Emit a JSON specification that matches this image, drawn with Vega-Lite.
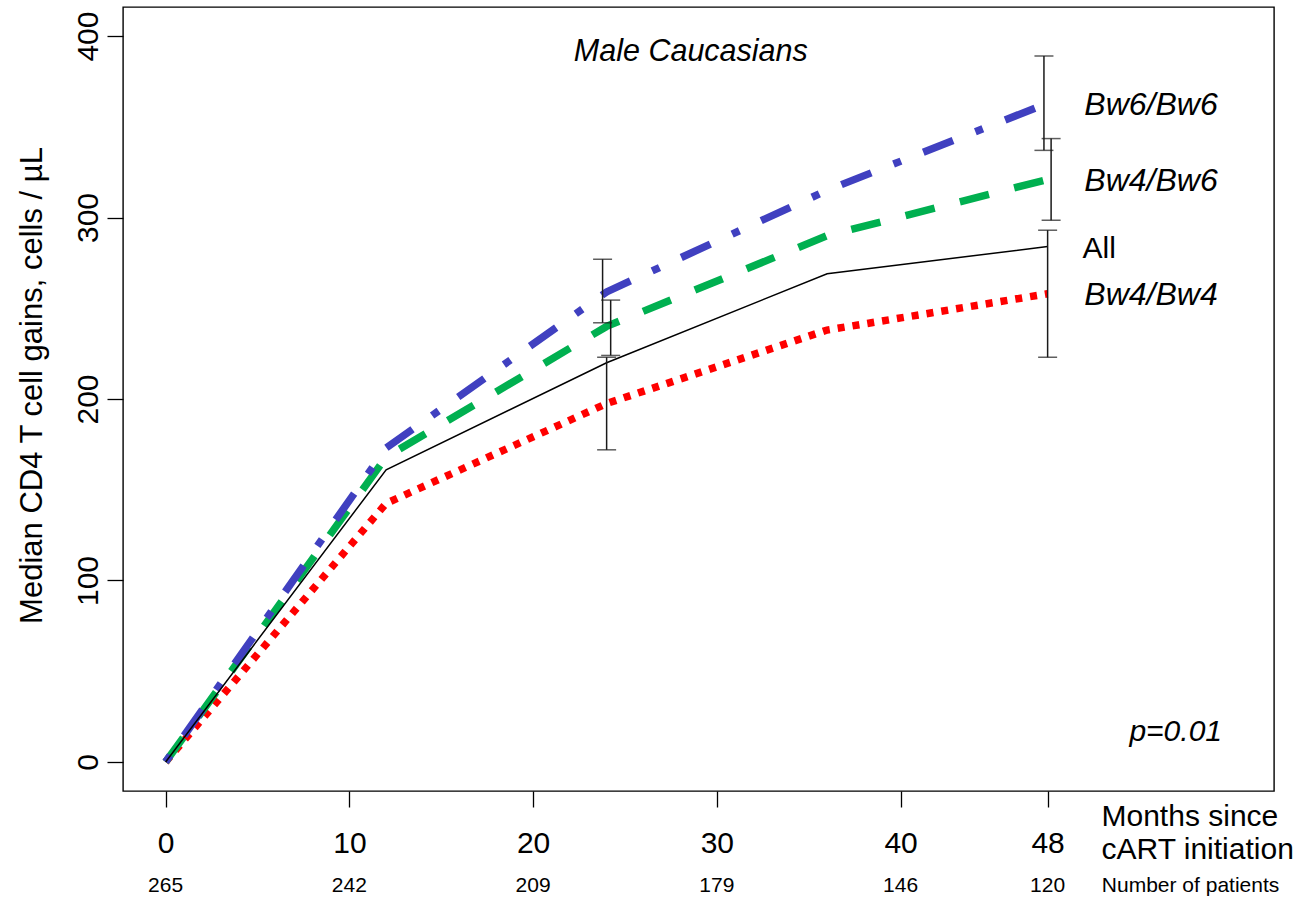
{
  "$schema": "https://vega.github.io/schema/vega-lite/v6.json",
  "width": 1151,
  "height": 784,
  "autosize": {"type": "none"},
  "padding": {"left": 123, "top": 7, "right": 21, "bottom": 115},
  "background": "white",
  "config": {
    "view": {"stroke": "black", "strokeWidth": 1.4},
    "font": "Liberation Sans",
    "axis": {"labelFont": "Liberation Sans", "titleFont": "Liberation Sans", "labelColor": "black", "titleColor": "black", "tickColor": "black", "tickWidth": 1.3, "titleFontWeight": "normal"}
  },
  "datasets": {
    "gains": [
      {"series": "All", "month": 0, "gain": 0},
      {"series": "All", "month": 12, "gain": 161},
      {"series": "All", "month": 24, "gain": 220},
      {"series": "All", "month": 36, "gain": 269},
      {"series": "All", "month": 48, "gain": 284},
      {"series": "Bw4/Bw4", "month": 0, "gain": 0},
      {"series": "Bw4/Bw4", "month": 12, "gain": 142.5},
      {"series": "Bw4/Bw4", "month": 24, "gain": 197.5},
      {"series": "Bw4/Bw4", "month": 36, "gain": 238},
      {"series": "Bw4/Bw4", "month": 48, "gain": 258},
      {"series": "Bw4/Bw6", "month": 0, "gain": 0},
      {"series": "Bw4/Bw6", "month": 12, "gain": 168},
      {"series": "Bw4/Bw6", "month": 24, "gain": 240},
      {"series": "Bw4/Bw6", "month": 36, "gain": 290},
      {"series": "Bw4/Bw6", "month": 48, "gain": 321},
      {"series": "Bw6/Bw6", "month": 0, "gain": 0},
      {"series": "Bw6/Bw6", "month": 12, "gain": 173},
      {"series": "Bw6/Bw6", "month": 24, "gain": 259},
      {"series": "Bw6/Bw6", "month": 36, "gain": 315},
      {"series": "Bw6/Bw6", "month": 48, "gain": 363}
    ],
    "errors": [
      {"series": "Bw6/Bw6", "month": 23.78, "lo": 242, "hi": 277},
      {"series": "Bw4/Bw6", "month": 24.22, "lo": 224, "hi": 254.5},
      {"series": "Bw4/Bw4", "month": 24, "lo": 172, "hi": 223},
      {"series": "Bw6/Bw6", "month": 47.8, "lo": 337, "hi": 389},
      {"series": "Bw4/Bw6", "month": 48.19, "lo": 298.5, "hi": 343.5},
      {"series": "Bw4/Bw4", "month": 48, "lo": 223, "hi": 293}
    ],
    "patients": [
      {"month": 0, "patients": 265},
      {"month": 10, "patients": 242},
      {"month": 20, "patients": 209},
      {"month": 30, "patients": 179},
      {"month": 40, "patients": 146},
      {"month": 48, "patients": 120}
    ]
  },
  "layer": [
    {
      "data": {"name": "gains"},
      "transform": [{"filter": "datum.series === 'Bw4/Bw4'"}],
      "mark": {"type": "line", "color": "#FF0000", "strokeWidth": 7.5, "strokeDash": [7, 8], "strokeCap": "butt"},
      "encoding": {
        "x": {"field": "month", "type": "quantitative", "scale": {"domain": [-2.32, 60.32], "nice": false, "zero": false},
          "axis": {"values": [0, 10, 20, 30, 40, 48], "grid": false, "domain": false, "tickSize": 16, "labelFontSize": 30, "labelBaseline": "alphabetic", "labelPadding": 45, "labelFlush": false, "labelOverlap": false, "labelBound": false,
            "title": ["Months since", "cART initiation"], "titleFontSize": 30, "titleAlign": "left", "titleAnchor": "start", "titleX": 978, "titleY": 34, "titleBaseline": "alphabetic", "titleLineHeight": 33}},
        "y": {"field": "gain", "type": "quantitative", "scale": {"domain": [-16, 416], "nice": false, "zero": false},
          "axis": {"values": [0, 100, 200, 300, 400], "grid": false, "domain": false, "tickSize": 16, "labelAngle": 270, "labelAlign": "center", "labelBaseline": "alphabetic", "labelPadding": 10, "labelFontSize": 30, "labelFlush": false, "labelOverlap": false, "labelBound": false,
            "title": "Median CD4 T cell gains, cells / µL", "titleFontSize": 31, "titleAngle": 270, "titleBaseline": "alphabetic", "titleAlign": "center", "titleX": -82, "titleY": 378}}
      }
    },
    {
      "data": {"name": "gains"},
      "transform": [{"filter": "datum.series === 'Bw4/Bw6'"}],
      "mark": {"type": "line", "color": "#00B050", "strokeWidth": 7.5, "strokeDash": [30, 26], "strokeCap": "butt"},
      "encoding": {
        "x": {"field": "month", "type": "quantitative"},
        "y": {"field": "gain", "type": "quantitative"}
      }
    },
    {
      "data": {"name": "gains"},
      "transform": [{"filter": "datum.series === 'Bw6/Bw6'"}],
      "mark": {"type": "line", "color": "#4040C0", "strokeWidth": 7.5, "strokeDash": [8, 24, 32, 24], "strokeCap": "butt"},
      "encoding": {
        "x": {"field": "month", "type": "quantitative"},
        "y": {"field": "gain", "type": "quantitative"}
      }
    },
    {
      "data": {"name": "gains"},
      "transform": [{"filter": "datum.series === 'All'"}],
      "mark": {"type": "line", "color": "black", "strokeWidth": 1.5},
      "encoding": {
        "x": {"field": "month", "type": "quantitative"},
        "y": {"field": "gain", "type": "quantitative"}
      }
    },
    {
      "data": {"name": "errors"},
      "mark": {"type": "rule", "color": "#1a1a1a", "strokeWidth": 1.5},
      "encoding": {
        "x": {"field": "month", "type": "quantitative"},
        "y": {"field": "lo", "type": "quantitative"},
        "y2": {"field": "hi"}
      }
    },
    {
      "data": {"name": "errors"},
      "mark": {"type": "tick", "color": "#1a1a1a", "orient": "horizontal", "size": 19, "thickness": 1.5},
      "encoding": {
        "x": {"field": "month", "type": "quantitative"},
        "y": {"field": "lo", "type": "quantitative"}
      }
    },
    {
      "data": {"name": "errors"},
      "mark": {"type": "tick", "color": "#1a1a1a", "orient": "horizontal", "size": 19, "thickness": 1.5},
      "encoding": {
        "x": {"field": "month", "type": "quantitative"},
        "y": {"field": "hi", "type": "quantitative"}
      }
    },
    {
      "data": {"name": "gains"},
      "transform": [{"filter": "datum.month === 48 && datum.series !== 'All'"}],
      "mark": {"type": "text", "font": "Liberation Sans", "fontSize": 32, "fontStyle": "italic", "align": "left", "baseline": "alphabetic", "dy": 11.5, "color": "black"},
      "encoding": {
        "x": {"datum": 50},
        "y": {"field": "gain", "type": "quantitative"},
        "text": {"field": "series"}
      }
    },
    {
      "data": {"name": "gains"},
      "transform": [{"filter": "datum.month === 48 && datum.series === 'All'"}],
      "mark": {"type": "text", "font": "Liberation Sans", "fontSize": 30, "align": "left", "baseline": "alphabetic", "dy": 11, "color": "black"},
      "encoding": {
        "x": {"datum": 49.9},
        "y": {"field": "gain", "type": "quantitative"},
        "text": {"field": "series"}
      }
    },
    {
      "data": {"name": "patients"},
      "mark": {"type": "text", "font": "Liberation Sans", "fontSize": 21, "align": "center", "baseline": "alphabetic", "color": "black"},
      "encoding": {
        "x": {"field": "month", "type": "quantitative"},
        "y": {"datum": -71.6},
        "text": {"field": "patients"}
      }
    },
    {
      "data": {"values": [{}]},
      "mark": {"type": "text", "text": "Number of patients", "font": "Liberation Sans", "fontSize": 21, "align": "left", "baseline": "alphabetic", "color": "black"},
      "encoding": {"x": {"datum": 50.95}, "y": {"datum": -71.6}}
    },
    {
      "data": {"values": [{}]},
      "mark": {"type": "text", "text": "Male Caucasians", "font": "Liberation Sans", "fontSize": 30.5, "fontStyle": "italic", "align": "center", "baseline": "alphabetic", "color": "black"},
      "encoding": {"x": {"datum": 28.58}, "y": {"datum": 386}}
    },
    {
      "data": {"values": [{}]},
      "mark": {"type": "text", "text": "p=0.01", "font": "Liberation Sans", "fontSize": 30, "fontStyle": "italic", "align": "right", "baseline": "alphabetic", "color": "black"},
      "encoding": {"x": {"datum": 57.49}, "y": {"datum": 11.6}}
    }
  ]
}
